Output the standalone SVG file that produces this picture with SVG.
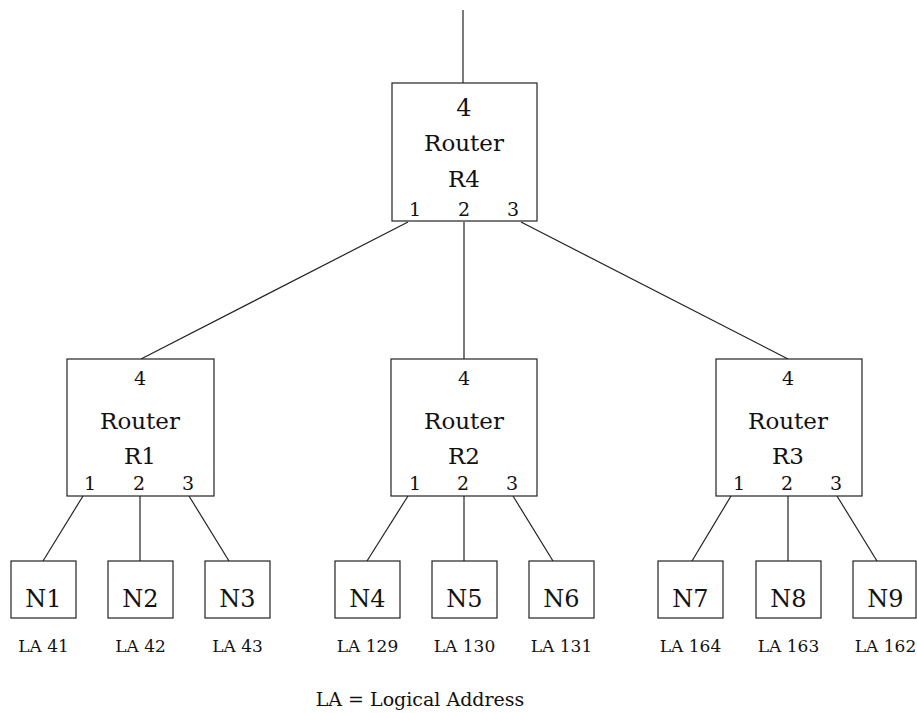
<svg xmlns="http://www.w3.org/2000/svg" width="917" height="713" viewBox="0 0 917 713">
<style>
rect{fill:#fff;stroke:#222;stroke-width:1.2}
line{stroke:#222;stroke-width:1.2}
text{font-family:"DejaVu Serif","Liberation Serif",serif;fill:#111;text-anchor:middle}
.big{font-size:24px}
.rt{font-size:23px}
.pt{font-size:19px}
.nl{font-size:24px}
.la{font-size:17px}
.ft{font-size:19px}
</style>
<rect x="0" y="0" width="917" height="713" style="stroke:none"/>
<g id="connectors">
<line x1="463" y1="10" x2="463" y2="83"/>
<line x1="408" y1="222" x2="141" y2="359"/>
<line x1="464" y1="222" x2="464" y2="359"/>
<line x1="521" y1="222" x2="788" y2="359"/>
<line x1="83" y1="496" x2="43" y2="561"/>
<line x1="140" y1="496" x2="140" y2="561"/>
<line x1="189" y1="496" x2="229" y2="561"/>
<line x1="408" y1="496" x2="367" y2="561"/>
<line x1="464" y1="496" x2="464" y2="561"/>
<line x1="513" y1="496" x2="553" y2="561"/>
<line x1="731" y1="496" x2="692" y2="561"/>
<line x1="788" y1="496" x2="788" y2="561"/>
<line x1="837" y1="496" x2="877" y2="561"/>
</g>
<g id="R4">
<rect x="392" y="83" width="145" height="138"/>
<text class="big" x="464" y="116">4</text>
<text class="rt" x="464" y="151">Router</text>
<text class="rt" x="464" y="187">R4</text>
<text class="pt" x="415" y="216">1</text>
<text class="pt" x="464" y="216">2</text>
<text class="pt" x="513" y="216">3</text>
</g>
<g id="R1">
<rect x="67" y="359" width="147" height="137"/>
<text class="pt" x="140" y="385">4</text>
<text class="rt" x="140" y="429">Router</text>
<text class="rt" x="140" y="464">R1</text>
<text class="pt" x="90" y="490">1</text>
<text class="pt" x="139" y="490">2</text>
<text class="pt" x="188" y="490">3</text>
</g>
<g id="R2">
<rect x="391" y="359" width="146" height="137"/>
<text class="pt" x="464" y="385">4</text>
<text class="rt" x="464" y="429">Router</text>
<text class="rt" x="464" y="464">R2</text>
<text class="pt" x="415" y="490">1</text>
<text class="pt" x="463" y="490">2</text>
<text class="pt" x="512" y="490">3</text>
</g>
<g id="R3">
<rect x="716" y="359" width="146" height="137"/>
<text class="pt" x="788" y="385">4</text>
<text class="rt" x="788" y="429">Router</text>
<text class="rt" x="788" y="464">R3</text>
<text class="pt" x="739" y="490">1</text>
<text class="pt" x="787" y="490">2</text>
<text class="pt" x="836" y="490">3</text>
</g>
<g id="N1"><rect x="11" y="561" width="65" height="57"/><text class="nl" x="43.5" y="607">N1</text><text class="la" x="43.5" y="652">LA 41</text></g>
<g id="N2"><rect x="108" y="561" width="65" height="57"/><text class="nl" x="140.5" y="607">N2</text><text class="la" x="140.5" y="652">LA 42</text></g>
<g id="N3"><rect x="205" y="561" width="65" height="57"/><text class="nl" x="237.5" y="607">N3</text><text class="la" x="237.5" y="652">LA 43</text></g>
<g id="N4"><rect x="335" y="561" width="65" height="57"/><text class="nl" x="367.5" y="607">N4</text><text class="la" x="367.5" y="652">LA 129</text></g>
<g id="N5"><rect x="432" y="561" width="65" height="57"/><text class="nl" x="464.5" y="607">N5</text><text class="la" x="464.5" y="652">LA 130</text></g>
<g id="N6"><rect x="529" y="561" width="65" height="57"/><text class="nl" x="561.5" y="607">N6</text><text class="la" x="561.5" y="652">LA 131</text></g>
<g id="N7"><rect x="658" y="561" width="65" height="57"/><text class="nl" x="690.5" y="607">N7</text><text class="la" x="690.5" y="652">LA 164</text></g>
<g id="N8"><rect x="756" y="561" width="65" height="57"/><text class="nl" x="788.5" y="607">N8</text><text class="la" x="788.5" y="652">LA 163</text></g>
<g id="N9"><rect x="853" y="561" width="63" height="57"/><text class="nl" x="885.5" y="607">N9</text><text class="la" x="885.5" y="652">LA 162</text></g>
<text class="ft" x="420" y="706">LA = Logical Address</text>
</svg>
